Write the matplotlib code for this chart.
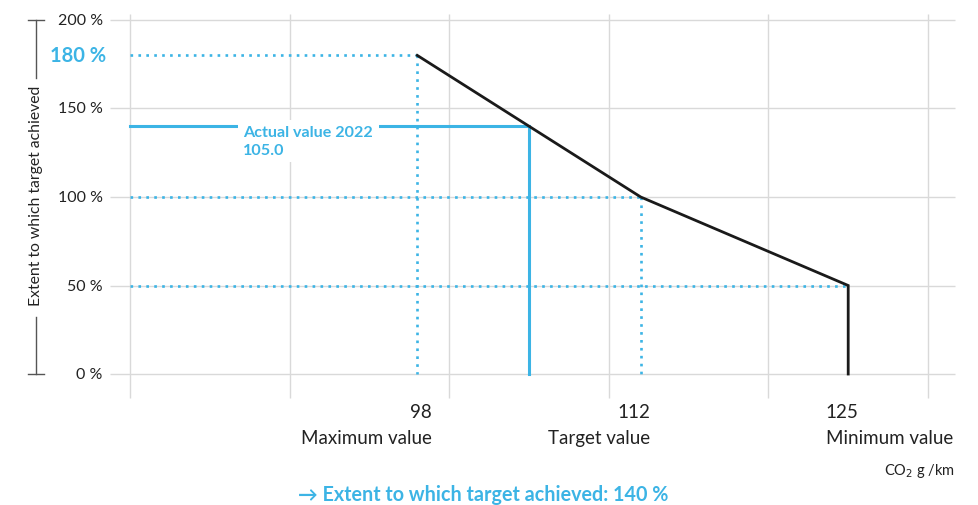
import matplotlib.pyplot as plt

plt.rcParams["font.family"] = ["Lato", "DejaVu Sans"]

# curve: CO2 g/km vs extent to which target achieved (%)
co2_values = [98, 105, 112, 125, 125]
achievement = [180, 140, 100, 50, 0]

ref_co2 = [98, 112, 125]
ref_pct = [180, 100, 50]
ref_names = ["Maximum value", "Target value", "Minimum value"]

actual_co2 = 105.0
actual_pct = 140
actual_year = 2022

grid_x = [80, 90, 100, 110, 120, 130]
grid_y = [0, 50, 100, 150, 200]

blue = "#3cb4e5"
grid_color = "#d9d9d9"
text_color = "#222222"

fig = plt.figure(figsize=(9.79, 5.06), dpi=100)
ax = fig.add_axes([0, 0, 1, 1])
ax.set_xlim(71.855, 133.195)
ax.set_ylim(-74.0, 211.86)
ax.axis("off")

# grid
ax.vlines(grid_x, -13.6, 203.4, color=grid_color, lw=1.0, zorder=1)
ax.hlines(grid_y, 78.75, 131.7, color=grid_color, lw=1.0, zorder=1)
for v in grid_y:
    ax.text(78.3, v, f"{v} %", ha="right", va="center", fontsize=11.5, color=text_color)
ax.text(78.5, 180.5, "180 %", ha="right", va="center", fontsize=14.5,
        fontweight="bold", color=blue)

# y-axis label with bracket
ax.text(74.1, 101, "Extent to which target achieved", rotation=90, ha="center",
        va="center", fontsize=11.3, color=text_color)
ax.plot([74.1, 74.1], [200, 167], color="#555555", lw=1.0)
ax.plot([74.1, 74.1], [32, 0], color="#555555", lw=1.0)
ax.plot([73.6, 74.6], [200, 200], color="#555555", lw=1.0)
ax.plot([73.6, 74.6], [0, 0], color="#555555", lw=1.0)

# dotted reference lines
for cx, py in zip(ref_co2, ref_pct):
    ax.plot([80, cx], [py, py], color=blue, lw=1.9, ls=(0, (1, 2.0)), zorder=2)
    if cx != 125:
        ax.plot([cx, cx], [py, 0], color=blue, lw=1.9, ls=(0, (1, 2.0)), zorder=2)

# actual value
ax.plot([80, actual_co2, actual_co2], [actual_pct, actual_pct, 0], color=blue,
        lw=2.2, zorder=3, solid_joinstyle="miter")
ax.text(87.1, actual_pct + 0.5, f"Actual value {actual_year}\n{actual_co2:.1f}",
        ha="left", va="top", fontsize=11.6, fontweight="bold", color=blue,
        linespacing=1.3, zorder=4,
        bbox=dict(facecolor="white", edgecolor="none", pad=4))

# curve
ax.plot(co2_values, achievement, color="#1a1a1a", lw=2.0, zorder=5,
        solid_joinstyle="miter")

# x labels
label_x = [98.9, 112.6, 123.6]
aligns = ["right", "right", "left"]
for c, lx, ha, name in zip(ref_co2, label_x, aligns, ref_names):
    ax.text(lx, -21, str(c), ha=ha, va="center", fontsize=13.5, color=text_color)
    ax.text(lx, -36, name, ha=ha, va="center", fontsize=13.5, color=text_color)

ax.text(131.7, -54.5, "CO$_2$ g /km", ha="right", va="center", fontsize=10.5,
        color=text_color)

ax.text(90.5, -67.8, "\u2192 Extent to which target achieved: 140 %", ha="left",
        va="center", fontsize=14.2, fontweight="bold", color=blue)

fig.savefig("out.png", dpi=100, facecolor="white")
